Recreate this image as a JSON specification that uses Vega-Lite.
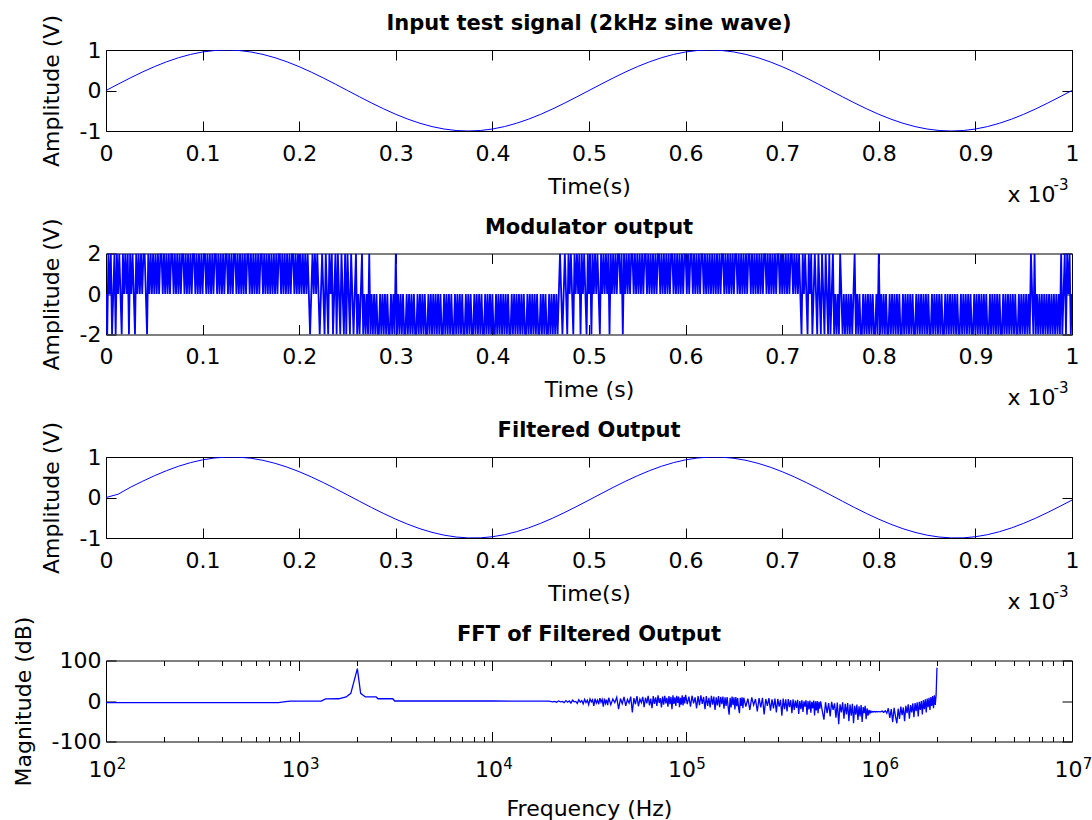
{
"$schema": "https://vega.github.io/schema/vega-lite/v6.json",
"background": "#ffffff",
"padding": {"left": 11, "top": 12, "right": 0, "bottom": 0},
"spacing": 122.5,
"bounds": "flush",
"config": {
  "font": "DejaVu Sans",
  "view": {"stroke": "#000000", "strokeWidth": 1},
  "axis": {"domain": false, "grid": false, "tickColor": "#000000", "tickWidth": 1, "labelColor": "#000000", "titleColor": "#000000", "labelFont": "DejaVu Sans", "titleFont": "DejaVu Sans", "labelFontSize": 22, "titleFontSize": 22, "titleFontWeight": "normal", "labelFlush": false, "labelOverlap": false, "labelBound": false},
  "title": {"font": "DejaVu Sans", "fontSize": 21, "fontWeight": "bold", "color": "#000000", "anchor": "middle"}
},
"datasets": {
"sig": [
{"t":0,"vin":0,"vout":0},{"t":12.5e-6,"vin":0.156,"vout":0.08},{"t":25e-6,"vin":0.309,"vout":0.249},{"t":37.5e-6,"vin":0.454,"vout":0.397},{"t":50e-6,"vin":0.588,"vout":0.536},{"t":62.5e-6,"vin":0.707,"vout":0.661},{"t":75e-6,"vin":0.809,"vout":0.771},{"t":87.5e-6,"vin":0.891,"vout":0.861},{"t":100e-6,"vin":0.951,"vout":0.93},{"t":112.5e-6,"vin":0.988,"vout":0.976},
{"t":125e-6,"vin":1,"vout":0.998},{"t":137.5e-6,"vin":0.988,"vout":0.996},{"t":150e-6,"vin":0.951,"vout":0.969},{"t":162.5e-6,"vin":0.891,"vout":0.918},{"t":175e-6,"vin":0.809,"vout":0.844},{"t":187.5e-6,"vin":0.707,"vout":0.75},{"t":200e-6,"vin":0.588,"vout":0.637},{"t":212.5e-6,"vin":0.454,"vout":0.509},{"t":225e-6,"vin":0.309,"vout":0.368},{"t":237.5e-6,"vin":0.156,"vout":0.218},
{"t":250e-6,"vin":0,"vout":0.063},{"t":262.5e-6,"vin":-0.156,"vout":-0.094},{"t":275e-6,"vin":-0.309,"vout":-0.249},{"t":287.5e-6,"vin":-0.454,"vout":-0.397},{"t":300e-6,"vin":-0.588,"vout":-0.536},{"t":312.5e-6,"vin":-0.707,"vout":-0.661},{"t":325e-6,"vin":-0.809,"vout":-0.771},{"t":337.5e-6,"vin":-0.891,"vout":-0.861},{"t":350e-6,"vin":-0.951,"vout":-0.93},{"t":362.5e-6,"vin":-0.988,"vout":-0.976},
{"t":375e-6,"vin":-1,"vout":-0.998},{"t":387.5e-6,"vin":-0.988,"vout":-0.996},{"t":400e-6,"vin":-0.951,"vout":-0.969},{"t":412.5e-6,"vin":-0.891,"vout":-0.918},{"t":425e-6,"vin":-0.809,"vout":-0.844},{"t":437.5e-6,"vin":-0.707,"vout":-0.75},{"t":450e-6,"vin":-0.588,"vout":-0.637},{"t":462.5e-6,"vin":-0.454,"vout":-0.509},{"t":475e-6,"vin":-0.309,"vout":-0.368},{"t":487.5e-6,"vin":-0.156,"vout":-0.218},
{"t":500e-6,"vin":0,"vout":-0.063},{"t":512.5e-6,"vin":0.156,"vout":0.094},{"t":525e-6,"vin":0.309,"vout":0.249},{"t":537.5e-6,"vin":0.454,"vout":0.397},{"t":550e-6,"vin":0.588,"vout":0.536},{"t":562.5e-6,"vin":0.707,"vout":0.661},{"t":575e-6,"vin":0.809,"vout":0.771},{"t":587.5e-6,"vin":0.891,"vout":0.861},{"t":600e-6,"vin":0.951,"vout":0.93},{"t":612.5e-6,"vin":0.988,"vout":0.976},
{"t":625e-6,"vin":1,"vout":0.998},{"t":637.5e-6,"vin":0.988,"vout":0.996},{"t":650e-6,"vin":0.951,"vout":0.969},{"t":662.5e-6,"vin":0.891,"vout":0.918},{"t":675e-6,"vin":0.809,"vout":0.844},{"t":687.5e-6,"vin":0.707,"vout":0.75},{"t":700e-6,"vin":0.588,"vout":0.637},{"t":712.5e-6,"vin":0.454,"vout":0.509},{"t":725e-6,"vin":0.309,"vout":0.368},{"t":737.5e-6,"vin":0.156,"vout":0.218},
{"t":750e-6,"vin":0,"vout":0.063},{"t":762.5e-6,"vin":-0.156,"vout":-0.094},{"t":775e-6,"vin":-0.309,"vout":-0.249},{"t":787.5e-6,"vin":-0.454,"vout":-0.397},{"t":800e-6,"vin":-0.588,"vout":-0.536},{"t":812.5e-6,"vin":-0.707,"vout":-0.661},{"t":825e-6,"vin":-0.809,"vout":-0.771},{"t":837.5e-6,"vin":-0.891,"vout":-0.861},{"t":850e-6,"vin":-0.951,"vout":-0.93},{"t":862.5e-6,"vin":-0.988,"vout":-0.976},
{"t":875e-6,"vin":-1,"vout":-0.998},{"t":887.5e-6,"vin":-0.988,"vout":-0.996},{"t":900e-6,"vin":-0.951,"vout":-0.969},{"t":912.5e-6,"vin":-0.891,"vout":-0.918},{"t":925e-6,"vin":-0.809,"vout":-0.844},{"t":937.5e-6,"vin":-0.707,"vout":-0.75},{"t":950e-6,"vin":-0.588,"vout":-0.637},{"t":962.5e-6,"vin":-0.454,"vout":-0.509},{"t":975e-6,"vin":-0.309,"vout":-0.368},{"t":987.5e-6,"vin":-0.156,"vout":-0.218},
{"t":1000e-6,"vin":0,"vout":-0.063}
],
"mod": [
{"t":0,"v":0},{"t":1.25e-6,"v":-2},{"t":2.5e-6,"v":2},{"t":3.75e-6,"v":0},{"t":5e-6,"v":2},{"t":6.25e-6,"v":-2},{"t":7.5e-6,"v":0},{"t":8.75e-6,"v":2},{"t":10e-6,"v":-2},{"t":11.25e-6,"v":2},{"t":12.5e-6,"v":0},{"t":13.75e-6,"v":2},{"t":15e-6,"v":0},{"t":16.25e-6,"v":-2},{"t":17.5e-6,"v":2},{"t":18.75e-6,"v":0},{"t":20e-6,"v":2},{"t":21.25e-6,"v":0},{"t":22.5e-6,"v":2},{"t":23.75e-6,"v":-2},
{"t":25e-6,"v":2},{"t":26.25e-6,"v":0},{"t":27.5e-6,"v":2},{"t":28.75e-6,"v":0},{"t":30e-6,"v":-2},{"t":31.25e-6,"v":2},{"t":32.5e-6,"v":0},{"t":33.75e-6,"v":2},{"t":35e-6,"v":0},{"t":36.25e-6,"v":2},{"t":37.5e-6,"v":0},{"t":38.75e-6,"v":2},{"t":40e-6,"v":2},{"t":41.25e-6,"v":0},{"t":42.5e-6,"v":-2},{"t":43.75e-6,"v":2},{"t":45e-6,"v":0},{"t":46.25e-6,"v":2},{"t":47.5e-6,"v":0},{"t":48.75e-6,"v":2},
{"t":50e-6,"v":0},{"t":51.25e-6,"v":2},{"t":52.5e-6,"v":0},{"t":53.75e-6,"v":2},{"t":55e-6,"v":0},{"t":56.25e-6,"v":2},{"t":57.5e-6,"v":2},{"t":58.75e-6,"v":0},{"t":60e-6,"v":2},{"t":61.25e-6,"v":0},{"t":62.5e-6,"v":2},{"t":63.75e-6,"v":0},{"t":65e-6,"v":2},{"t":66.25e-6,"v":0},{"t":67.5e-6,"v":2},{"t":68.75e-6,"v":2},{"t":70e-6,"v":0},{"t":71.25e-6,"v":2},{"t":72.5e-6,"v":0},{"t":73.75e-6,"v":2},
{"t":75e-6,"v":0},{"t":76.25e-6,"v":2},{"t":77.5e-6,"v":0},{"t":78.75e-6,"v":2},{"t":80e-6,"v":2},{"t":81.25e-6,"v":0},{"t":82.5e-6,"v":2},{"t":83.75e-6,"v":0},{"t":85e-6,"v":2},{"t":86.25e-6,"v":0},{"t":87.5e-6,"v":2},{"t":88.75e-6,"v":0},{"t":90e-6,"v":2},{"t":91.25e-6,"v":2},{"t":92.5e-6,"v":0},{"t":93.75e-6,"v":2},{"t":95e-6,"v":0},{"t":96.25e-6,"v":2},{"t":97.5e-6,"v":0},{"t":98.75e-6,"v":2},
{"t":100e-6,"v":0},{"t":101.25e-6,"v":2},{"t":102.5e-6,"v":2},{"t":103.75e-6,"v":0},{"t":105e-6,"v":2},{"t":106.25e-6,"v":0},{"t":107.5e-6,"v":2},{"t":108.75e-6,"v":0},{"t":110e-6,"v":2},{"t":111.25e-6,"v":0},{"t":112.5e-6,"v":2},{"t":113.75e-6,"v":2},{"t":115e-6,"v":0},{"t":116.25e-6,"v":2},{"t":117.5e-6,"v":0},{"t":118.75e-6,"v":2},{"t":120e-6,"v":0},{"t":121.25e-6,"v":2},{"t":122.5e-6,"v":0},{"t":123.75e-6,"v":2},
{"t":125e-6,"v":2},{"t":126.25e-6,"v":0},{"t":127.5e-6,"v":2},{"t":128.75e-6,"v":0},{"t":130e-6,"v":2},{"t":131.25e-6,"v":0},{"t":132.5e-6,"v":2},{"t":133.75e-6,"v":2},{"t":135e-6,"v":0},{"t":136.25e-6,"v":2},{"t":137.5e-6,"v":0},{"t":138.75e-6,"v":2},{"t":140e-6,"v":0},{"t":141.25e-6,"v":2},{"t":142.5e-6,"v":0},{"t":143.75e-6,"v":2},{"t":145e-6,"v":0},{"t":146.25e-6,"v":2},{"t":147.5e-6,"v":2},{"t":148.75e-6,"v":0},
{"t":150e-6,"v":2},{"t":151.25e-6,"v":0},{"t":152.5e-6,"v":2},{"t":153.75e-6,"v":0},{"t":155e-6,"v":2},{"t":156.25e-6,"v":0},{"t":157.5e-6,"v":2},{"t":158.75e-6,"v":0},{"t":160e-6,"v":2},{"t":161.25e-6,"v":2},{"t":162.5e-6,"v":0},{"t":163.75e-6,"v":2},{"t":165e-6,"v":0},{"t":166.25e-6,"v":2},{"t":167.5e-6,"v":0},{"t":168.75e-6,"v":2},{"t":170e-6,"v":0},{"t":171.25e-6,"v":2},{"t":172.5e-6,"v":0},{"t":173.75e-6,"v":2},
{"t":175e-6,"v":0},{"t":176.25e-6,"v":2},{"t":177.5e-6,"v":0},{"t":178.75e-6,"v":2},{"t":180e-6,"v":2},{"t":181.25e-6,"v":0},{"t":182.5e-6,"v":2},{"t":183.75e-6,"v":0},{"t":185e-6,"v":2},{"t":186.25e-6,"v":0},{"t":187.5e-6,"v":2},{"t":188.75e-6,"v":0},{"t":190e-6,"v":2},{"t":191.25e-6,"v":0},{"t":192.5e-6,"v":2},{"t":193.75e-6,"v":2},{"t":195e-6,"v":0},{"t":196.25e-6,"v":2},{"t":197.5e-6,"v":0},{"t":198.75e-6,"v":2},
{"t":200e-6,"v":0},{"t":201.25e-6,"v":2},{"t":202.5e-6,"v":0},{"t":203.75e-6,"v":2},{"t":205e-6,"v":0},{"t":206.25e-6,"v":2},{"t":207.5e-6,"v":0},{"t":208.75e-6,"v":2},{"t":210e-6,"v":0},{"t":211.25e-6,"v":-2},{"t":212.5e-6,"v":0},{"t":213.75e-6,"v":2},{"t":215e-6,"v":0},{"t":216.25e-6,"v":2},{"t":217.5e-6,"v":0},{"t":218.75e-6,"v":2},{"t":220e-6,"v":0},{"t":221.25e-6,"v":-2},{"t":222.5e-6,"v":0},{"t":223.75e-6,"v":2},
{"t":225e-6,"v":0},{"t":226.25e-6,"v":-2},{"t":227.5e-6,"v":2},{"t":228.75e-6,"v":0},{"t":230e-6,"v":-2},{"t":231.25e-6,"v":2},{"t":232.5e-6,"v":0},{"t":233.75e-6,"v":2},{"t":235e-6,"v":-2},{"t":236.25e-6,"v":0},{"t":237.5e-6,"v":2},{"t":238.75e-6,"v":-2},{"t":240e-6,"v":2},{"t":241.25e-6,"v":0},{"t":242.5e-6,"v":-2},{"t":243.75e-6,"v":2},{"t":245e-6,"v":0},{"t":246.25e-6,"v":-2},{"t":247.5e-6,"v":2},{"t":248.75e-6,"v":-2},
{"t":250e-6,"v":2},{"t":251.25e-6,"v":0},{"t":252.5e-6,"v":-2},{"t":253.75e-6,"v":2},{"t":255e-6,"v":0},{"t":256.25e-6,"v":-2},{"t":257.5e-6,"v":0},{"t":258.75e-6,"v":2},{"t":260e-6,"v":-2},{"t":261.25e-6,"v":0},{"t":262.5e-6,"v":-2},{"t":263.75e-6,"v":0},{"t":265e-6,"v":2},{"t":266.25e-6,"v":-2},{"t":267.5e-6,"v":0},{"t":268.75e-6,"v":-2},{"t":270e-6,"v":0},{"t":271.25e-6,"v":-2},{"t":272.5e-6,"v":2},{"t":273.75e-6,"v":-2},
{"t":275e-6,"v":0},{"t":276.25e-6,"v":-2},{"t":277.5e-6,"v":0},{"t":278.75e-6,"v":-2},{"t":280e-6,"v":0},{"t":281.25e-6,"v":-2},{"t":282.5e-6,"v":-2},{"t":283.75e-6,"v":0},{"t":285e-6,"v":-2},{"t":286.25e-6,"v":0},{"t":287.5e-6,"v":-2},{"t":288.75e-6,"v":0},{"t":290e-6,"v":-2},{"t":291.25e-6,"v":0},{"t":292.5e-6,"v":-2},{"t":293.75e-6,"v":-2},{"t":295e-6,"v":0},{"t":296.25e-6,"v":-2},{"t":297.5e-6,"v":0},{"t":298.75e-6,"v":-2},
{"t":300e-6,"v":2},{"t":301.25e-6,"v":-2},{"t":302.5e-6,"v":0},{"t":303.75e-6,"v":-2},{"t":305e-6,"v":0},{"t":306.25e-6,"v":-2},{"t":307.5e-6,"v":0},{"t":308.75e-6,"v":-2},{"t":310e-6,"v":-2},{"t":311.25e-6,"v":0},{"t":312.5e-6,"v":-2},{"t":313.75e-6,"v":0},{"t":315e-6,"v":-2},{"t":316.25e-6,"v":0},{"t":317.5e-6,"v":-2},{"t":318.75e-6,"v":0},{"t":320e-6,"v":-2},{"t":321.25e-6,"v":-2},{"t":322.5e-6,"v":0},{"t":323.75e-6,"v":-2},
{"t":325e-6,"v":0},{"t":326.25e-6,"v":-2},{"t":327.5e-6,"v":0},{"t":328.75e-6,"v":-2},{"t":330e-6,"v":0},{"t":331.25e-6,"v":-2},{"t":332.5e-6,"v":-2},{"t":333.75e-6,"v":0},{"t":335e-6,"v":-2},{"t":336.25e-6,"v":0},{"t":337.5e-6,"v":-2},{"t":338.75e-6,"v":0},{"t":340e-6,"v":-2},{"t":341.25e-6,"v":0},{"t":342.5e-6,"v":-2},{"t":343.75e-6,"v":0},{"t":345e-6,"v":-2},{"t":346.25e-6,"v":0},{"t":347.5e-6,"v":-2},{"t":348.75e-6,"v":-2},
{"t":350e-6,"v":0},{"t":351.25e-6,"v":-2},{"t":352.5e-6,"v":0},{"t":353.75e-6,"v":-2},{"t":355e-6,"v":0},{"t":356.25e-6,"v":-2},{"t":357.5e-6,"v":0},{"t":358.75e-6,"v":-2},{"t":360e-6,"v":-2},{"t":361.25e-6,"v":0},{"t":362.5e-6,"v":-2},{"t":363.75e-6,"v":0},{"t":365e-6,"v":-2},{"t":366.25e-6,"v":0},{"t":367.5e-6,"v":-2},{"t":368.75e-6,"v":0},{"t":370e-6,"v":-2},{"t":371.25e-6,"v":-2},{"t":372.5e-6,"v":0},{"t":373.75e-6,"v":-2},
{"t":375e-6,"v":0},{"t":376.25e-6,"v":-2},{"t":377.5e-6,"v":0},{"t":378.75e-6,"v":-2},{"t":380e-6,"v":-2},{"t":381.25e-6,"v":0},{"t":382.5e-6,"v":-2},{"t":383.75e-6,"v":0},{"t":385e-6,"v":-2},{"t":386.25e-6,"v":0},{"t":387.5e-6,"v":-2},{"t":388.75e-6,"v":0},{"t":390e-6,"v":-2},{"t":391.25e-6,"v":-2},{"t":392.5e-6,"v":0},{"t":393.75e-6,"v":-2},{"t":395e-6,"v":0},{"t":396.25e-6,"v":-2},{"t":397.5e-6,"v":0},{"t":398.75e-6,"v":-2},
{"t":400e-6,"v":0},{"t":401.25e-6,"v":-2},{"t":402.5e-6,"v":-2},{"t":403.75e-6,"v":0},{"t":405e-6,"v":-2},{"t":406.25e-6,"v":0},{"t":407.5e-6,"v":-2},{"t":408.75e-6,"v":0},{"t":410e-6,"v":-2},{"t":411.25e-6,"v":0},{"t":412.5e-6,"v":-2},{"t":413.75e-6,"v":0},{"t":415e-6,"v":-2},{"t":416.25e-6,"v":0},{"t":417.5e-6,"v":-2},{"t":418.75e-6,"v":-2},{"t":420e-6,"v":0},{"t":421.25e-6,"v":-2},{"t":422.5e-6,"v":0},{"t":423.75e-6,"v":-2},
{"t":425e-6,"v":0},{"t":426.25e-6,"v":-2},{"t":427.5e-6,"v":0},{"t":428.75e-6,"v":-2},{"t":430e-6,"v":0},{"t":431.25e-6,"v":-2},{"t":432.5e-6,"v":0},{"t":433.75e-6,"v":-2},{"t":435e-6,"v":-2},{"t":436.25e-6,"v":0},{"t":437.5e-6,"v":-2},{"t":438.75e-6,"v":0},{"t":440e-6,"v":-2},{"t":441.25e-6,"v":0},{"t":442.5e-6,"v":-2},{"t":443.75e-6,"v":0},{"t":445e-6,"v":-2},{"t":446.25e-6,"v":0},{"t":447.5e-6,"v":-2},{"t":448.75e-6,"v":-2},
{"t":450e-6,"v":0},{"t":451.25e-6,"v":-2},{"t":452.5e-6,"v":0},{"t":453.75e-6,"v":-2},{"t":455e-6,"v":0},{"t":456.25e-6,"v":-2},{"t":457.5e-6,"v":-2},{"t":458.75e-6,"v":0},{"t":460e-6,"v":-2},{"t":461.25e-6,"v":0},{"t":462.5e-6,"v":-2},{"t":463.75e-6,"v":0},{"t":465e-6,"v":-2},{"t":466.25e-6,"v":0},{"t":467.5e-6,"v":-2},{"t":468.75e-6,"v":0},{"t":470e-6,"v":2},{"t":471.25e-6,"v":0},{"t":472.5e-6,"v":-2},{"t":473.75e-6,"v":0},
{"t":475e-6,"v":2},{"t":476.25e-6,"v":0},{"t":477.5e-6,"v":-2},{"t":478.75e-6,"v":2},{"t":480e-6,"v":0},{"t":481.25e-6,"v":2},{"t":482.5e-6,"v":0},{"t":483.75e-6,"v":-2},{"t":485e-6,"v":2},{"t":486.25e-6,"v":0},{"t":487.5e-6,"v":2},{"t":488.75e-6,"v":0},{"t":490e-6,"v":2},{"t":491.25e-6,"v":-2},{"t":492.5e-6,"v":2},{"t":493.75e-6,"v":0},{"t":495e-6,"v":2},{"t":496.25e-6,"v":0},{"t":497.5e-6,"v":-2},{"t":498.75e-6,"v":2},
{"t":500e-6,"v":0},{"t":501.25e-6,"v":2},{"t":502.5e-6,"v":-2},{"t":503.75e-6,"v":2},{"t":505e-6,"v":0},{"t":506.25e-6,"v":2},{"t":507.5e-6,"v":0},{"t":508.75e-6,"v":2},{"t":510e-6,"v":0},{"t":511.25e-6,"v":-2},{"t":512.5e-6,"v":2},{"t":513.75e-6,"v":0},{"t":515e-6,"v":2},{"t":516.25e-6,"v":0},{"t":517.5e-6,"v":2},{"t":518.75e-6,"v":0},{"t":520e-6,"v":2},{"t":521.25e-6,"v":-2},{"t":522.5e-6,"v":2},{"t":523.75e-6,"v":0},
{"t":525e-6,"v":2},{"t":526.25e-6,"v":0},{"t":527.5e-6,"v":2},{"t":528.75e-6,"v":0},{"t":530e-6,"v":2},{"t":531.25e-6,"v":2},{"t":532.5e-6,"v":0},{"t":533.75e-6,"v":2},{"t":535e-6,"v":-2},{"t":536.25e-6,"v":2},{"t":537.5e-6,"v":0},{"t":538.75e-6,"v":2},{"t":540e-6,"v":0},{"t":541.25e-6,"v":2},{"t":542.5e-6,"v":0},{"t":543.75e-6,"v":2},{"t":545e-6,"v":2},{"t":546.25e-6,"v":0},{"t":547.5e-6,"v":2},{"t":548.75e-6,"v":0},
{"t":550e-6,"v":2},{"t":551.25e-6,"v":0},{"t":552.5e-6,"v":2},{"t":553.75e-6,"v":0},{"t":555e-6,"v":2},{"t":556.25e-6,"v":0},{"t":557.5e-6,"v":2},{"t":558.75e-6,"v":2},{"t":560e-6,"v":0},{"t":561.25e-6,"v":2},{"t":562.5e-6,"v":0},{"t":563.75e-6,"v":2},{"t":565e-6,"v":0},{"t":566.25e-6,"v":2},{"t":567.5e-6,"v":0},{"t":568.75e-6,"v":2},{"t":570e-6,"v":0},{"t":571.25e-6,"v":2},{"t":572.5e-6,"v":2},{"t":573.75e-6,"v":0},
{"t":575e-6,"v":2},{"t":576.25e-6,"v":0},{"t":577.5e-6,"v":2},{"t":578.75e-6,"v":0},{"t":580e-6,"v":2},{"t":581.25e-6,"v":0},{"t":582.5e-6,"v":2},{"t":583.75e-6,"v":0},{"t":585e-6,"v":2},{"t":586.25e-6,"v":2},{"t":587.5e-6,"v":0},{"t":588.75e-6,"v":2},{"t":590e-6,"v":0},{"t":591.25e-6,"v":2},{"t":592.5e-6,"v":0},{"t":593.75e-6,"v":2},{"t":595e-6,"v":0},{"t":596.25e-6,"v":2},{"t":597.5e-6,"v":0},{"t":598.75e-6,"v":2},
{"t":600e-6,"v":2},{"t":601.25e-6,"v":0},{"t":602.5e-6,"v":2},{"t":603.75e-6,"v":0},{"t":605e-6,"v":2},{"t":606.25e-6,"v":2},{"t":607.5e-6,"v":0},{"t":608.75e-6,"v":2},{"t":610e-6,"v":0},{"t":611.25e-6,"v":2},{"t":612.5e-6,"v":0},{"t":613.75e-6,"v":2},{"t":615e-6,"v":0},{"t":616.25e-6,"v":2},{"t":617.5e-6,"v":2},{"t":618.75e-6,"v":0},{"t":620e-6,"v":2},{"t":621.25e-6,"v":0},{"t":622.5e-6,"v":2},{"t":623.75e-6,"v":0},
{"t":625e-6,"v":2},{"t":626.25e-6,"v":0},{"t":627.5e-6,"v":2},{"t":628.75e-6,"v":0},{"t":630e-6,"v":2},{"t":631.25e-6,"v":0},{"t":632.5e-6,"v":2},{"t":633.75e-6,"v":0},{"t":635e-6,"v":2},{"t":636.25e-6,"v":0},{"t":637.5e-6,"v":2},{"t":638.75e-6,"v":2},{"t":640e-6,"v":0},{"t":641.25e-6,"v":2},{"t":642.5e-6,"v":0},{"t":643.75e-6,"v":2},{"t":645e-6,"v":0},{"t":646.25e-6,"v":2},{"t":647.5e-6,"v":0},{"t":648.75e-6,"v":2},
{"t":650e-6,"v":0},{"t":651.25e-6,"v":2},{"t":652.5e-6,"v":2},{"t":653.75e-6,"v":0},{"t":655e-6,"v":2},{"t":656.25e-6,"v":0},{"t":657.5e-6,"v":2},{"t":658.75e-6,"v":0},{"t":660e-6,"v":2},{"t":661.25e-6,"v":0},{"t":662.5e-6,"v":2},{"t":663.75e-6,"v":0},{"t":665e-6,"v":2},{"t":666.25e-6,"v":2},{"t":667.5e-6,"v":0},{"t":668.75e-6,"v":2},{"t":670e-6,"v":0},{"t":671.25e-6,"v":2},{"t":672.5e-6,"v":0},{"t":673.75e-6,"v":2},
{"t":675e-6,"v":0},{"t":676.25e-6,"v":2},{"t":677.5e-6,"v":0},{"t":678.75e-6,"v":2},{"t":680e-6,"v":0},{"t":681.25e-6,"v":2},{"t":682.5e-6,"v":2},{"t":683.75e-6,"v":0},{"t":685e-6,"v":2},{"t":686.25e-6,"v":0},{"t":687.5e-6,"v":2},{"t":688.75e-6,"v":0},{"t":690e-6,"v":2},{"t":691.25e-6,"v":0},{"t":692.5e-6,"v":2},{"t":693.75e-6,"v":0},{"t":695e-6,"v":2},{"t":696.25e-6,"v":2},{"t":697.5e-6,"v":0},{"t":698.75e-6,"v":2},
{"t":700e-6,"v":0},{"t":701.25e-6,"v":2},{"t":702.5e-6,"v":0},{"t":703.75e-6,"v":2},{"t":705e-6,"v":0},{"t":706.25e-6,"v":2},{"t":707.5e-6,"v":0},{"t":708.75e-6,"v":2},{"t":710e-6,"v":2},{"t":711.25e-6,"v":0},{"t":712.5e-6,"v":2},{"t":713.75e-6,"v":0},{"t":715e-6,"v":2},{"t":716.25e-6,"v":0},{"t":717.5e-6,"v":2},{"t":718.75e-6,"v":0},{"t":720e-6,"v":-2},{"t":721.25e-6,"v":2},{"t":722.5e-6,"v":0},{"t":723.75e-6,"v":2},
{"t":725e-6,"v":0},{"t":726.25e-6,"v":-2},{"t":727.5e-6,"v":2},{"t":728.75e-6,"v":0},{"t":730e-6,"v":2},{"t":731.25e-6,"v":-2},{"t":732.5e-6,"v":0},{"t":733.75e-6,"v":2},{"t":735e-6,"v":0},{"t":736.25e-6,"v":-2},{"t":737.5e-6,"v":2},{"t":738.75e-6,"v":0},{"t":740e-6,"v":-2},{"t":741.25e-6,"v":2},{"t":742.5e-6,"v":0},{"t":743.75e-6,"v":-2},{"t":745e-6,"v":2},{"t":746.25e-6,"v":0},{"t":747.5e-6,"v":-2},{"t":748.75e-6,"v":2},
{"t":750e-6,"v":-2},{"t":751.25e-6,"v":0},{"t":752.5e-6,"v":2},{"t":753.75e-6,"v":-2},{"t":755e-6,"v":0},{"t":756.25e-6,"v":-2},{"t":757.5e-6,"v":0},{"t":758.75e-6,"v":-2},{"t":760e-6,"v":2},{"t":761.25e-6,"v":0},{"t":762.5e-6,"v":-2},{"t":763.75e-6,"v":0},{"t":765e-6,"v":-2},{"t":766.25e-6,"v":0},{"t":767.5e-6,"v":-2},{"t":768.75e-6,"v":0},{"t":770e-6,"v":-2},{"t":771.25e-6,"v":0},{"t":772.5e-6,"v":-2},{"t":773.75e-6,"v":0},
{"t":775e-6,"v":2},{"t":776.25e-6,"v":-2},{"t":777.5e-6,"v":0},{"t":778.75e-6,"v":-2},{"t":780e-6,"v":0},{"t":781.25e-6,"v":-2},{"t":782.5e-6,"v":-2},{"t":783.75e-6,"v":0},{"t":785e-6,"v":-2},{"t":786.25e-6,"v":0},{"t":787.5e-6,"v":-2},{"t":788.75e-6,"v":0},{"t":790e-6,"v":-2},{"t":791.25e-6,"v":0},{"t":792.5e-6,"v":-2},{"t":793.75e-6,"v":0},{"t":795e-6,"v":-2},{"t":796.25e-6,"v":-2},{"t":797.5e-6,"v":0},{"t":798.75e-6,"v":-2},
{"t":800e-6,"v":2},{"t":801.25e-6,"v":-2},{"t":802.5e-6,"v":0},{"t":803.75e-6,"v":-2},{"t":805e-6,"v":0},{"t":806.25e-6,"v":-2},{"t":807.5e-6,"v":0},{"t":808.75e-6,"v":-2},{"t":810e-6,"v":-2},{"t":811.25e-6,"v":0},{"t":812.5e-6,"v":-2},{"t":813.75e-6,"v":0},{"t":815e-6,"v":-2},{"t":816.25e-6,"v":0},{"t":817.5e-6,"v":-2},{"t":818.75e-6,"v":0},{"t":820e-6,"v":-2},{"t":821.25e-6,"v":0},{"t":822.5e-6,"v":-2},{"t":823.75e-6,"v":-2},
{"t":825e-6,"v":0},{"t":826.25e-6,"v":-2},{"t":827.5e-6,"v":0},{"t":828.75e-6,"v":-2},{"t":830e-6,"v":0},{"t":831.25e-6,"v":-2},{"t":832.5e-6,"v":0},{"t":833.75e-6,"v":-2},{"t":835e-6,"v":0},{"t":836.25e-6,"v":-2},{"t":837.5e-6,"v":-2},{"t":838.75e-6,"v":0},{"t":840e-6,"v":-2},{"t":841.25e-6,"v":0},{"t":842.5e-6,"v":-2},{"t":843.75e-6,"v":0},{"t":845e-6,"v":-2},{"t":846.25e-6,"v":0},{"t":847.5e-6,"v":-2},{"t":848.75e-6,"v":0},
{"t":850e-6,"v":-2},{"t":851.25e-6,"v":0},{"t":852.5e-6,"v":-2},{"t":853.75e-6,"v":-2},{"t":855e-6,"v":0},{"t":856.25e-6,"v":-2},{"t":857.5e-6,"v":0},{"t":858.75e-6,"v":-2},{"t":860e-6,"v":0},{"t":861.25e-6,"v":-2},{"t":862.5e-6,"v":0},{"t":863.75e-6,"v":-2},{"t":865e-6,"v":0},{"t":866.25e-6,"v":-2},{"t":867.5e-6,"v":-2},{"t":868.75e-6,"v":0},{"t":870e-6,"v":-2},{"t":871.25e-6,"v":0},{"t":872.5e-6,"v":-2},{"t":873.75e-6,"v":0},
{"t":875e-6,"v":-2},{"t":876.25e-6,"v":0},{"t":877.5e-6,"v":-2},{"t":878.75e-6,"v":0},{"t":880e-6,"v":-2},{"t":881.25e-6,"v":0},{"t":882.5e-6,"v":-2},{"t":883.75e-6,"v":-2},{"t":885e-6,"v":0},{"t":886.25e-6,"v":-2},{"t":887.5e-6,"v":0},{"t":888.75e-6,"v":-2},{"t":890e-6,"v":0},{"t":891.25e-6,"v":-2},{"t":892.5e-6,"v":0},{"t":893.75e-6,"v":-2},{"t":895e-6,"v":0},{"t":896.25e-6,"v":-2},{"t":897.5e-6,"v":-2},{"t":898.75e-6,"v":0},
{"t":900e-6,"v":-2},{"t":901.25e-6,"v":0},{"t":902.5e-6,"v":-2},{"t":903.75e-6,"v":0},{"t":905e-6,"v":-2},{"t":906.25e-6,"v":0},{"t":907.5e-6,"v":-2},{"t":908.75e-6,"v":0},{"t":910e-6,"v":-2},{"t":911.25e-6,"v":0},{"t":912.5e-6,"v":-2},{"t":913.75e-6,"v":-2},{"t":915e-6,"v":0},{"t":916.25e-6,"v":-2},{"t":917.5e-6,"v":0},{"t":918.75e-6,"v":-2},{"t":920e-6,"v":0},{"t":921.25e-6,"v":-2},{"t":922.5e-6,"v":0},{"t":923.75e-6,"v":-2},
{"t":925e-6,"v":0},{"t":926.25e-6,"v":-2},{"t":927.5e-6,"v":-2},{"t":928.75e-6,"v":0},{"t":930e-6,"v":-2},{"t":931.25e-6,"v":0},{"t":932.5e-6,"v":-2},{"t":933.75e-6,"v":0},{"t":935e-6,"v":-2},{"t":936.25e-6,"v":0},{"t":937.5e-6,"v":-2},{"t":938.75e-6,"v":0},{"t":940e-6,"v":-2},{"t":941.25e-6,"v":0},{"t":942.5e-6,"v":-2},{"t":943.75e-6,"v":-2},{"t":945e-6,"v":0},{"t":946.25e-6,"v":-2},{"t":947.5e-6,"v":0},{"t":948.75e-6,"v":-2},
{"t":950e-6,"v":0},{"t":951.25e-6,"v":-2},{"t":952.5e-6,"v":0},{"t":953.75e-6,"v":-2},{"t":955e-6,"v":0},{"t":956.25e-6,"v":-2},{"t":957.5e-6,"v":2},{"t":958.75e-6,"v":0},{"t":960e-6,"v":-2},{"t":961.25e-6,"v":2},{"t":962.5e-6,"v":-2},{"t":963.75e-6,"v":0},{"t":965e-6,"v":-2},{"t":966.25e-6,"v":0},{"t":967.5e-6,"v":-2},{"t":968.75e-6,"v":0},{"t":970e-6,"v":-2},{"t":971.25e-6,"v":0},{"t":972.5e-6,"v":-2},{"t":973.75e-6,"v":0},
{"t":975e-6,"v":-2},{"t":976.25e-6,"v":0},{"t":977.5e-6,"v":-2},{"t":978.75e-6,"v":0},{"t":980e-6,"v":-2},{"t":981.25e-6,"v":0},{"t":982.5e-6,"v":-2},{"t":983.75e-6,"v":0},{"t":985e-6,"v":-2},{"t":986.25e-6,"v":0},{"t":987.5e-6,"v":-2},{"t":988.75e-6,"v":2},{"t":990e-6,"v":-2},{"t":991.25e-6,"v":0},{"t":992.5e-6,"v":2},{"t":993.75e-6,"v":-2},{"t":995e-6,"v":2},{"t":996.25e-6,"v":0},{"t":997.5e-6,"v":2},{"t":998.75e-6,"v":-2},
{"t":1000e-6,"v":0}
],
"fft": [
{"f":100,"m":-4},{"f":200,"m":-4},{"f":400,"m":-4},{"f":600,"m":-4},{"f":780,"m":-4},{"f":850,"m":-1.5},{"f":900,"m":-0.5},{"f":1000,"m":-0.5},{"f":1300,"m":-0.5},{"f":1370,"m":5},{"f":1600,"m":5.5},{"f":1750,"m":10},{"f":1850,"m":19},{"f":2000,"m":80},{"f":2080,"m":19},{"f":2200,"m":10},{"f":2500,"m":10},{"f":2560,"m":5.5},{"f":3050,"m":5.5},{"f":3120,"m":0},{"f":5000,"m":0},{"f":10000,"m":0},{"f":19500,"m":-0.5},
{"f":20000,"m":-1},{"f":20500,"m":-2},{"f":21000,"m":-1},{"f":21500,"m":-3},{"f":22000,"m":0},{"f":22500,"m":-2},{"f":23000,"m":-1},{"f":23500,"m":-4},{"f":24000,"m":1},{"f":24500,"m":-3},{"f":25000,"m":0},{"f":25500,"m":-5},{"f":26000,"m":2},{"f":26500,"m":-2},{"f":27000,"m":-1},{"f":27500,"m":-6},{"f":28000,"m":3},{"f":28500,"m":-3},{"f":29000,"m":1},{"f":29500,"m":-7},
{"f":30000,"m":4},{"f":30500,"m":-4},{"f":31000,"m":2},{"f":31500,"m":-9},{"f":32000,"m":5},{"f":32500,"m":-2},{"f":33000,"m":3},{"f":33500,"m":-12},{"f":34000,"m":6},{"f":34500,"m":-5},{"f":35000,"m":2},{"f":35500,"m":-8},{"f":36000,"m":7},{"f":36500,"m":-3},{"f":37000,"m":4},{"f":37500,"m":-14},{"f":38000,"m":6},{"f":38500,"m":-6},{"f":39000,"m":3},{"f":39500,"m":-10},
{"f":40000,"m":8},{"f":41000,"m":-9},{"f":42000,"m":5},{"f":43000,"m":-4},{"f":44000,"m":9},{"f":45000,"m":-20},{"f":46000,"m":6},{"f":47000,"m":-7},{"f":48000,"m":10},{"f":49000,"m":-12},{"f":50000,"m":4},{"f":51000,"m":-5},{"f":52000,"m":11},{"f":53000,"m":-28},{"f":54000,"m":7},{"f":55000,"m":-8},{"f":56000,"m":12},{"f":57000,"m":-13},{"f":58000,"m":5},{"f":59000,"m":-4},
{"f":60000,"m":10},{"f":61000,"m":-15},{"f":62000,"m":8},{"f":63000,"m":-6},{"f":64000,"m":13},{"f":65000,"m":-11},{"f":66000,"m":6},{"f":67000,"m":-18},{"f":68000,"m":12},{"f":69000,"m":-7},{"f":70000,"m":9},{"f":71000,"m":-12},{"f":72000,"m":14},{"f":73000,"m":-5},{"f":74000,"m":7},{"f":75000,"m":-16},{"f":76000,"m":11},{"f":77000,"m":-9},{"f":78000,"m":13},{"f":79000,"m":-6},
{"f":80000,"m":8},{"f":81000,"m":-14},{"f":82000,"m":12},{"f":83000,"m":-8},{"f":84000,"m":10},{"f":85000,"m":-20},{"f":86000,"m":14},{"f":87000,"m":-7},{"f":88000,"m":9},{"f":89000,"m":-12},{"f":90000,"m":13},{"f":91000,"m":-5},{"f":92000,"m":11},{"f":93000,"m":-15},{"f":94000,"m":8},{"f":95000,"m":-9},{"f":96000,"m":14},{"f":97000,"m":-11},{"f":98000,"m":10},{"f":99000,"m":-6},
{"f":100000,"m":15},{"f":102000,"m":-8},{"f":104000,"m":11},{"f":106000,"m":-14},{"f":108000,"m":13},{"f":110000,"m":-6},{"f":112000,"m":9},{"f":114000,"m":-18},{"f":116000,"m":12},{"f":118000,"m":-10},{"f":120000,"m":14},{"f":122000,"m":-7},{"f":124000,"m":10},{"f":126000,"m":-20},{"f":128000,"m":12},{"f":130000,"m":-12},{"f":132000,"m":8},{"f":134000,"m":-16},{"f":136000,"m":13},{"f":138000,"m":-9},
{"f":140000,"m":11},{"f":142000,"m":-22},{"f":144000,"m":9},{"f":146000,"m":-11},{"f":148000,"m":12},{"f":150000,"m":-15},{"f":152000,"m":10},{"f":154000,"m":-8},{"f":156000,"m":11},{"f":158000,"m":-19},{"f":160000,"m":9},{"f":162000,"m":-12},{"f":164000,"m":10},{"f":166000,"m":-14},{"f":168000,"m":-34},{"f":170000,"m":8},{"f":172000,"m":-16},{"f":174000,"m":11},{"f":176000,"m":-10},{"f":178000,"m":9},
{"f":180000,"m":-21},{"f":182000,"m":10},{"f":184000,"m":-13},{"f":186000,"m":7},{"f":188000,"m":-17},{"f":190000,"m":-30},{"f":192000,"m":8},{"f":194000,"m":-12},{"f":196000,"m":9},{"f":198000,"m":-18},
{"f":200000,"m":8},{"f":205000,"m":-14},{"f":210000,"m":6},{"f":215000,"m":-22},{"f":220000,"m":9},{"f":225000,"m":-10},{"f":230000,"m":5},{"f":235000,"m":-26},{"f":240000,"m":7},{"f":245000,"m":-16},{"f":250000,"m":8},{"f":255000,"m":-33},{"f":260000,"m":5},{"f":265000,"m":-12},{"f":270000,"m":7},{"f":275000,"m":-24},{"f":280000,"m":4},{"f":285000,"m":-18},{"f":290000,"m":6},{"f":295000,"m":-28},
{"f":300000,"m":5},{"f":305000,"m":-14},{"f":310000,"m":3},{"f":315000,"m":-36},{"f":320000,"m":6},{"f":325000,"m":-20},{"f":330000,"m":4},{"f":335000,"m":-26},{"f":340000,"m":5},{"f":345000,"m":-15},{"f":350000,"m":2},{"f":355000,"m":-30},{"f":360000,"m":4},{"f":365000,"m":-22},{"f":370000,"m":1},{"f":375000,"m":-17},{"f":380000,"m":3},{"f":385000,"m":-32},{"f":390000,"m":0},{"f":395000,"m":-20},
{"f":400000,"m":2},{"f":405000,"m":-27},{"f":410000,"m":-1},{"f":415000,"m":-14},{"f":420000,"m":2},{"f":425000,"m":-34},{"f":430000,"m":0},{"f":435000,"m":-21},{"f":440000,"m":1},{"f":445000,"m":-29},{"f":450000,"m":-2},{"f":455000,"m":-18},{"f":460000,"m":1},{"f":465000,"m":-36},{"f":470000,"m":-1},{"f":475000,"m":-23},{"f":480000,"m":0},{"f":485000,"m":-30},{"f":490000,"m":-2},{"f":495000,"m":-19},
{"f":500000,"m":-1},{"f":510000,"m":-25},{"f":520000,"m":-46},{"f":530000,"m":-3},{"f":540000,"m":-30},{"f":550000,"m":-5},{"f":560000,"m":-38},{"f":570000,"m":-2},{"f":580000,"m":-22},{"f":590000,"m":-6},{"f":600000,"m":-41},{"f":610000,"m":-4},{"f":620000,"m":-57},{"f":630000,"m":-8},{"f":640000,"m":-28},{"f":650000,"m":-3},{"f":660000,"m":-44},{"f":670000,"m":-7},{"f":680000,"m":-33},{"f":690000,"m":-5},
{"f":700000,"m":-50},{"f":710000,"m":-9},{"f":720000,"m":-36},{"f":730000,"m":-7},{"f":740000,"m":-55},{"f":750000,"m":-12},{"f":760000,"m":-34},{"f":770000,"m":-9},{"f":780000,"m":-47},{"f":790000,"m":-13},{"f":800000,"m":-38},{"f":810000,"m":-10},{"f":820000,"m":-52},{"f":830000,"m":-15},{"f":840000,"m":-30},{"f":850000,"m":-12},{"f":860000,"m":-45},{"f":870000,"m":-18},{"f":880000,"m":-36},{"f":890000,"m":-22},
{"f":900000,"m":-30},{"f":910000,"m":-25},{"f":920000,"m":-28},{"f":930000,"m":-26},{"f":940000,"m":-27},{"f":950000,"m":-26},{"f":960000,"m":-27},{"f":970000,"m":-26},{"f":980000,"m":-27},{"f":990000,"m":-26},
{"f":1000000,"m":-26},{"f":1020000,"m":-27},{"f":1040000,"m":-25},{"f":1060000,"m":-28},{"f":1080000,"m":-24},{"f":1100000,"m":-30},{"f":1120000,"m":-18},{"f":1140000,"m":-42},{"f":1160000,"m":-20},{"f":1180000,"m":-52},{"f":1200000,"m":-17},{"f":1220000,"m":-38},{"f":1240000,"m":-55},{"f":1260000,"m":-19},{"f":1280000,"m":-44},{"f":1300000,"m":-14},{"f":1320000,"m":-35},{"f":1340000,"m":-16},{"f":1360000,"m":-50},{"f":1380000,"m":-12},
{"f":1400000,"m":-30},{"f":1420000,"m":-8},{"f":1440000,"m":-44},{"f":1460000,"m":-10},{"f":1480000,"m":-28},{"f":1500000,"m":-6},{"f":1520000,"m":-40},{"f":1540000,"m":-5},{"f":1560000,"m":-25},{"f":1580000,"m":-3},{"f":1600000,"m":-38},{"f":1620000,"m":-2},{"f":1640000,"m":-22},{"f":1660000,"m":0},{"f":1680000,"m":-33},{"f":1700000,"m":2},{"f":1720000,"m":-20},{"f":1740000,"m":4},{"f":1760000,"m":-28},{"f":1780000,"m":6},
{"f":1800000,"m":-15},{"f":1820000,"m":8},{"f":1840000,"m":-22},{"f":1860000,"m":10},{"f":1880000,"m":-12},{"f":1900000,"m":12},{"f":1920000,"m":-18},{"f":1940000,"m":14},{"f":1960000,"m":-10},{"f":1980000,"m":15},{"f":2000000,"m":82}
]
},
"vconcat": [
{
"width": 966, "height": 81,
"title": {"text": "Input test signal (2kHz sine wave)", "frame": "group", "offset": -19.5},
"data": {"name": "sig"},
"layer": [
 {"mark": {"type": "line", "color": "#0000ff", "strokeWidth": 1, "clip": true},
  "encoding": {
   "x": {"field": "t", "type": "quantitative", "scale": {"domain": [0, 0.001], "nice": false, "zero": false},
    "axis": {"orient": "bottom", "title": "Time(s)", "values": [0,0.0001,0.0002,0.0003,0.0004,0.0005,0.0006,0.0007,0.0008,0.0009,0.001], "labelExpr": "format(datum.value * 1000, '.1~f')", "tickSize": -10, "labelPadding": 22, "titlePadding": 12}},
   "y": {"field": "vin", "type": "quantitative", "scale": {"domain": [-1, 1], "nice": false},
    "axis": {"orient": "left", "title": "Amplitude (V)", "values": [-1, 0, 1], "labelExpr": "'' + datum.value", "tickSize": -10, "labelPadding": 15, "titlePadding": 16}}}},
 {"mark": {"type": "line", "opacity": 0, "clip": true},
  "encoding": {
   "x": {"field": "t", "type": "quantitative", "scale": {"domain": [0, 0.001], "nice": false, "zero": false},
    "axis": {"orient": "top", "labels": false, "title": null, "values": [0,0.0001,0.0002,0.0003,0.0004,0.0005,0.0006,0.0007,0.0008,0.0009,0.001], "tickSize": -10}},
   "y": {"field": "vin", "type": "quantitative", "scale": {"domain": [-1, 1], "nice": false},
    "axis": {"orient": "right", "labels": false, "title": null, "values": [-1, 0, 1], "tickSize": -10}}}},
 {"mark": {"type": "line", "opacity": 0, "clip": true},
  "encoding": {
   "x": {"field": "t", "type": "quantitative", "scale": {"domain": [0, 0.001], "nice": false, "zero": false},
    "axis": {"orient": "bottom", "labels": false, "ticks": false, "tickSize": 0, "title": "x 10", "titleAnchor": "end", "titleAlign": "right", "titleX": 949, "titlePadding": 53}},
   "y": {"field": "vin", "type": "quantitative", "scale": {"domain": [-1, 1], "nice": false}, "axis": null}}},
 {"mark": {"type": "line", "opacity": 0, "clip": true},
  "encoding": {
   "x": {"field": "t", "type": "quantitative", "scale": {"domain": [0, 0.001], "nice": false, "zero": false},
    "axis": {"orient": "bottom", "labels": false, "ticks": false, "tickSize": 0, "title": "-3", "titleFontSize": 15, "titleAnchor": "end", "titleAlign": "right", "titleX": 962, "titlePadding": 46}},
   "y": {"field": "vin", "type": "quantitative", "scale": {"domain": [-1, 1], "nice": false}, "axis": null}}}
],
"resolve": {"axis": {"x": "independent", "y": "independent"}}
},
{
"width": 966, "height": 81,
"title": {"text": "Modulator output", "frame": "group", "offset": -19.5},
"data": {"name": "mod"},
"layer": [
 {"mark": {"type": "line", "color": "#0000ff", "strokeWidth": 1.8, "clip": true},
  "encoding": {
   "x": {"field": "t", "type": "quantitative", "scale": {"domain": [0, 0.001], "nice": false, "zero": false},
    "axis": {"orient": "bottom", "title": "Time (s)", "values": [0,0.0001,0.0002,0.0003,0.0004,0.0005,0.0006,0.0007,0.0008,0.0009,0.001], "labelExpr": "format(datum.value * 1000, '.1~f')", "tickSize": -10, "labelPadding": 22, "titlePadding": 12}},
   "y": {"field": "v", "type": "quantitative", "scale": {"domain": [-2, 2], "nice": false},
    "axis": {"orient": "left", "title": "Amplitude (V)", "values": [-2, 0, 2], "labelExpr": "'' + datum.value", "tickSize": -10, "labelPadding": 15, "titlePadding": 16}}}},
 {"mark": {"type": "line", "opacity": 0, "clip": true},
  "encoding": {
   "x": {"field": "t", "type": "quantitative", "scale": {"domain": [0, 0.001], "nice": false, "zero": false},
    "axis": {"orient": "top", "labels": false, "title": null, "values": [0,0.0001,0.0002,0.0003,0.0004,0.0005,0.0006,0.0007,0.0008,0.0009,0.001], "tickSize": -10}},
   "y": {"field": "v", "type": "quantitative", "scale": {"domain": [-2, 2], "nice": false},
    "axis": {"orient": "right", "labels": false, "title": null, "values": [-2, 0, 2], "tickSize": -10}}}},
 {"mark": {"type": "line", "opacity": 0, "clip": true},
  "encoding": {
   "x": {"field": "t", "type": "quantitative", "scale": {"domain": [0, 0.001], "nice": false, "zero": false},
    "axis": {"orient": "bottom", "labels": false, "ticks": false, "tickSize": 0, "title": "x 10", "titleAnchor": "end", "titleAlign": "right", "titleX": 949, "titlePadding": 53}},
   "y": {"field": "v", "type": "quantitative", "scale": {"domain": [-2, 2], "nice": false}, "axis": null}}},
 {"mark": {"type": "line", "opacity": 0, "clip": true},
  "encoding": {
   "x": {"field": "t", "type": "quantitative", "scale": {"domain": [0, 0.001], "nice": false, "zero": false},
    "axis": {"orient": "bottom", "labels": false, "ticks": false, "tickSize": 0, "title": "-3", "titleFontSize": 15, "titleAnchor": "end", "titleAlign": "right", "titleX": 962, "titlePadding": 46}},
   "y": {"field": "v", "type": "quantitative", "scale": {"domain": [-2, 2], "nice": false}, "axis": null}}}
],
"resolve": {"axis": {"x": "independent", "y": "independent"}}
},
{
"width": 966, "height": 81,
"title": {"text": "Filtered Output", "frame": "group", "offset": -19.5},
"data": {"name": "sig"},
"layer": [
 {"mark": {"type": "line", "color": "#0000ff", "strokeWidth": 1, "clip": true},
  "encoding": {
   "x": {"field": "t", "type": "quantitative", "scale": {"domain": [0, 0.001], "nice": false, "zero": false},
    "axis": {"orient": "bottom", "title": "Time(s)", "values": [0,0.0001,0.0002,0.0003,0.0004,0.0005,0.0006,0.0007,0.0008,0.0009,0.001], "labelExpr": "format(datum.value * 1000, '.1~f')", "tickSize": -10, "labelPadding": 22, "titlePadding": 12}},
   "y": {"field": "vout", "type": "quantitative", "scale": {"domain": [-1, 1], "nice": false},
    "axis": {"orient": "left", "title": "Amplitude (V)", "values": [-1, 0, 1], "labelExpr": "'' + datum.value", "tickSize": -10, "labelPadding": 15, "titlePadding": 16}}}},
 {"mark": {"type": "line", "opacity": 0, "clip": true},
  "encoding": {
   "x": {"field": "t", "type": "quantitative", "scale": {"domain": [0, 0.001], "nice": false, "zero": false},
    "axis": {"orient": "top", "labels": false, "title": null, "values": [0,0.0001,0.0002,0.0003,0.0004,0.0005,0.0006,0.0007,0.0008,0.0009,0.001], "tickSize": -10}},
   "y": {"field": "vout", "type": "quantitative", "scale": {"domain": [-1, 1], "nice": false},
    "axis": {"orient": "right", "labels": false, "title": null, "values": [-1, 0, 1], "tickSize": -10}}}},
 {"mark": {"type": "line", "opacity": 0, "clip": true},
  "encoding": {
   "x": {"field": "t", "type": "quantitative", "scale": {"domain": [0, 0.001], "nice": false, "zero": false},
    "axis": {"orient": "bottom", "labels": false, "ticks": false, "tickSize": 0, "title": "x 10", "titleAnchor": "end", "titleAlign": "right", "titleX": 949, "titlePadding": 53}},
   "y": {"field": "vout", "type": "quantitative", "scale": {"domain": [-1, 1], "nice": false}, "axis": null}}},
 {"mark": {"type": "line", "opacity": 0, "clip": true},
  "encoding": {
   "x": {"field": "t", "type": "quantitative", "scale": {"domain": [0, 0.001], "nice": false, "zero": false},
    "axis": {"orient": "bottom", "labels": false, "ticks": false, "tickSize": 0, "title": "-3", "titleFontSize": 15, "titleAnchor": "end", "titleAlign": "right", "titleX": 962, "titlePadding": 46}},
   "y": {"field": "vout", "type": "quantitative", "scale": {"domain": [-1, 1], "nice": false}, "axis": null}}}
],
"resolve": {"axis": {"x": "independent", "y": "independent"}}
},
{
"width": 966, "height": 81,
"title": {"text": "FFT of Filtered Output", "frame": "group", "offset": -28.4},
"data": {"name": "fft"},
"layer": [
 {"mark": {"type": "line", "color": "#0000ff", "strokeWidth": 1.3, "clip": true},
  "encoding": {
   "x": {"field": "f", "type": "quantitative", "scale": {"type": "log", "domain": [100, 10000000], "nice": false},
    "axis": {"orient": "bottom", "title": "Frequency (Hz)", "values": [100,200,300,400,500,600,700,800,900,1000,2000,3000,4000,5000,6000,7000,8000,9000,10000,20000,30000,40000,50000,60000,70000,80000,90000,100000,200000,300000,400000,500000,600000,700000,800000,900000,1000000,2000000,3000000,4000000,5000000,6000000,7000000,8000000,9000000,10000000],
     "labelExpr": "indexof([100,1000,10000,100000,1000000,10000000], datum.value) >= 0 ? '10' : ''",
     "labelOffset": -4,
     "tickSize": {"condition": {"test": "indexof([100,1000,10000,100000,1000000,10000000], datum.value) >= 0", "value": -10}, "value": -5},
     "labelPadding": 28, "titlePadding": 13}},
   "y": {"field": "m", "type": "quantitative", "scale": {"domain": [-100, 100], "nice": false},
    "axis": {"orient": "left", "title": "Magnitude (dB)", "values": [-100, 0, 100], "labelExpr": "'' + datum.value", "tickSize": -10, "labelPadding": 15, "titlePadding": 16}}}},
 {"mark": {"type": "line", "opacity": 0, "clip": true},
  "encoding": {
   "x": {"field": "f", "type": "quantitative", "scale": {"type": "log", "domain": [100, 10000000], "nice": false},
    "axis": {"orient": "top", "labels": false, "title": null, "values": [100,200,300,400,500,600,700,800,900,1000,2000,3000,4000,5000,6000,7000,8000,9000,10000,20000,30000,40000,50000,60000,70000,80000,90000,100000,200000,300000,400000,500000,600000,700000,800000,900000,1000000,2000000,3000000,4000000,5000000,6000000,7000000,8000000,9000000,10000000],
     "tickSize": {"condition": {"test": "indexof([100,1000,10000,100000,1000000,10000000], datum.value) >= 0", "value": -10}, "value": -5}}},
   "y": {"field": "m", "type": "quantitative", "scale": {"domain": [-100, 100], "nice": false},
    "axis": {"orient": "right", "labels": false, "title": null, "values": [-100, 0, 100], "tickSize": -10}}}},
 {"mark": {"type": "line", "opacity": 0, "clip": true},
  "encoding": {
   "x": {"field": "f", "type": "quantitative", "scale": {"type": "log", "domain": [100, 10000000], "nice": false},
    "axis": {"orient": "bottom", "title": null, "ticks": false, "tickSize": 0, "values": [100,1000,10000,100000,1000000,10000000],
     "labelExpr": "datum.value == 100 ? '2' : datum.value == 1000 ? '3' : datum.value == 10000 ? '4' : datum.value == 100000 ? '5' : datum.value == 1000000 ? '6' : '7'",
     "labelFontSize": 15, "labelOffset": 15, "labelPadding": 15}},
   "y": {"field": "m", "type": "quantitative", "scale": {"domain": [-100, 100], "nice": false}, "axis": null}}}
],
"resolve": {"axis": {"x": "independent", "y": "independent"}}
}
]
}
